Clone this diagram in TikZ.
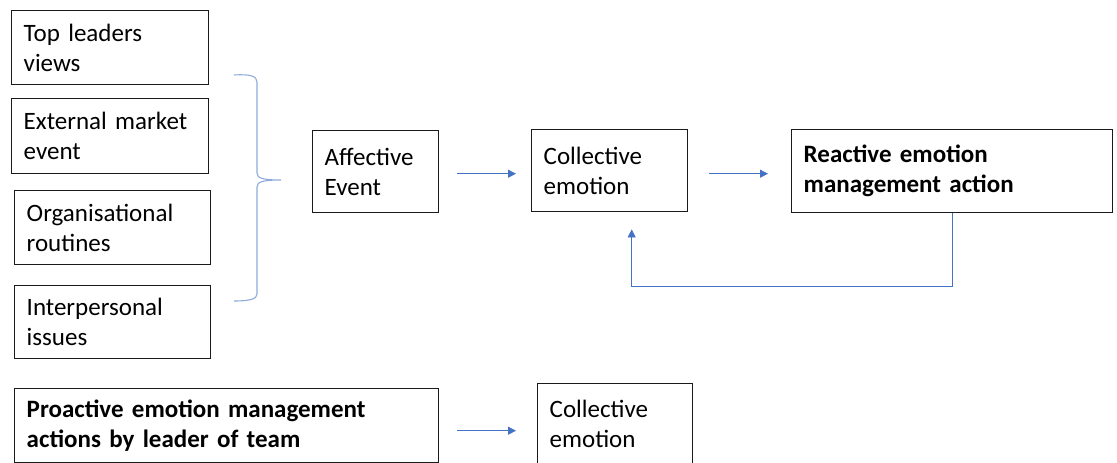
\documentclass[tikz,border=0pt]{standalone}
\usepackage{fontspec}
\setmainfont{Carlito}
\usetikzlibrary{arrows.meta}
\definecolor{arrowblue}{HTML}{4472C4}
\definecolor{braceblue}{HTML}{8EAADB}
\definecolor{boxline}{HTML}{1A1A1A}
\begin{document}
\begin{tikzpicture}[x=1pt,y=-1pt,
  box/.style={draw=boxline, line width=1.4pt, anchor=north west, align=left,
    inner xsep=12pt, inner ysep=0pt,
    font=\fontsize{25}{30}\selectfont},
  arr/.style={draw=arrowblue, line width=0.8pt,
    -{Triangle[length=8pt,width=8pt]}},
  brace/.style={draw=braceblue, line width=1.1pt}]
\useasboundingbox (0,0) rectangle (1117,463);

% source boxes
\node[box, text width=173pt, minimum height=74pt] (tl) at (11,10) {Top leaders\\views};
\node[box, text width=173pt, minimum height=75pt] (em) at (11,98) {External market\\event};
\node[box, text width=172pt, minimum height=74pt] (or) at (14,190) {Organisational\\routines};
\node[box, text width=172pt, minimum height=73pt] (ip) at (14,285) {Interpersonal\\issues};

% grouping brace
\draw[brace] (234,75) .. controls (250,74) and (257,76) .. (257,82)
  -- (257,173) .. controls (257,178) and (262,180) .. (281,180)
  .. controls (262,180) and (257,182) .. (257,187)
  -- (257,294) .. controls (257,299) and (250,301) .. (234,301);

% reactive chain
\node[box, text width=102pt, minimum height=82pt] (ae) at (312,130) {Affective\\Event};
\node[box, text width=132pt, minimum height=82pt] (ce) at (531,129) {Collective\\emotion};
\node[box, text width=297pt, minimum height=83pt, font=\fontsize{25}{30}\selectfont\bfseries] (re) at (791,129) {Reactive emotion\\management action};

\draw[arr, shorten <=18pt, shorten >=15pt] ([yshift=-2pt]ae.east) -- ([yshift=-2pt]ae.east -| ce.west);
\draw[arr, shorten <=21pt, shorten >=23pt] ([yshift=-3pt]ce.east) -- ([yshift=-3pt]ce.east -| re.west);
\draw[arr, shorten >=17pt] (re.south) -- ++(0,73) -| ([xshift=22pt]ce.south);

% proactive chain
\node[box, text width=400pt, minimum height=74pt, font=\fontsize{25}{30}\selectfont\bfseries] (pa) at (14,388) {Proactive emotion management\\actions by leader of team};
\node[box, text width=131pt, minimum height=80pt] (ce2) at (537,383) {Collective\\emotion};

\draw[arr, shorten <=18pt, shorten >=21pt] ([yshift=-5pt]pa.east) -- ([yshift=-5pt]pa.east -| ce2.west);
\end{tikzpicture}
\end{document}
